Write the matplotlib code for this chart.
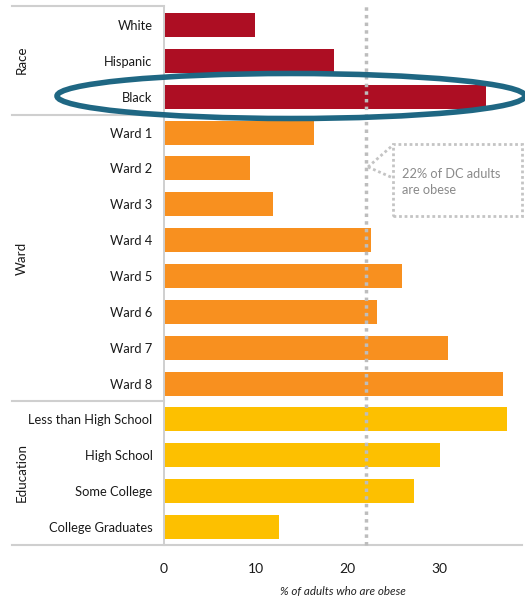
import matplotlib.pyplot as plt
from matplotlib.patches import Ellipse, Rectangle
from matplotlib.lines import Line2D

plt.rcParams['font.family'] = ['Lato', 'DejaVu Sans']

# obesity rates by group (% of adults)
race = ['White', 'Hispanic', 'Black']
race_vals = [10.0, 18.5, 35.1]
wards = ['Ward 1', 'Ward 2', 'Ward 3', 'Ward 4', 'Ward 5', 'Ward 6', 'Ward 7', 'Ward 8']
ward_vals = [16.4, 9.4, 11.9, 22.6, 25.9, 23.2, 31.0, 36.9]
education = ['Less than High School', 'High School', 'Some College', 'College Graduates']
edu_vals = [37.4, 30.1, 27.3, 12.6]
dc_average = 22
x_ticks = [0, 10, 20, 30]

RED = '#ad0e23'
ORANGE = '#f8901f'
YELLOW = '#fdc000'
LINE = '#cfcfcf'

labels = race + wards + education
values = race_vals + ward_vals + edu_vals
colors = [RED] * len(race) + [ORANGE] * len(wards) + [YELLOW] * len(education)
ypos = list(range(len(labels)))

W, H = 525, 600
fig = plt.figure(figsize=(5.25, 6), dpi=100)
ax = fig.add_axes([163.5 / W, 1 - 545 / H, (522 - 163.5) / W, 538 / H])

ax.barh(ypos, values, height=0.67, color=colors, zorder=2)
ax.set_ylim(len(labels) - 0.5, -0.5)
ax.set_xlim(0, 39)
ax.set_yticks(ypos)
ax.set_yticklabels(labels, fontsize=9.3, color='#1a1a1a')
ax.set_xticks(x_ticks)
ax.set_xticklabels([str(t) for t in x_ticks], fontsize=10, color='#1a1a1a')
ax.tick_params(axis='both', length=0)
ax.tick_params(axis='y', pad=8)
ax.tick_params(axis='x', pad=13)
for s in ['top', 'right']:
    ax.spines[s].set_visible(False)
ax.spines['left'].set_color(LINE)
ax.spines['bottom'].set_color(LINE)
ax.spines['left'].set_linewidth(1.2)
ax.spines['bottom'].set_linewidth(1.5)
ax.set_xlabel('% of adults who are obese', fontsize=8.4, style='italic',
              color='#222222', labelpad=8)

# DC average reference line
ax.axvline(dc_average, ymin=0, ymax=1.003, color='#bdbdbd', linestyle=(0, (1, 1.2)),
           linewidth=2.5, zorder=3, clip_on=False)

# group separators and labels on the left
def fy(py):
    return 1 - py / H

for py in [6, 115, 401, 545]:
    fig.add_artist(Line2D([12 / W, 163.5 / W], [fy(py), fy(py)], color=LINE, lw=1.5))
fig.add_artist(Line2D([163.5 / W, 163.5 / W], [fy(545), fy(6)], color=LINE, lw=1.2))

for name, py in [('Race', 60), ('Ward', 258), ('Education', 473)]:
    fig.text(22 / W, fy(py), name, rotation=90, ha='center', va='center',
             fontsize=9.6, color='#1a1a1a')

# callout box
box = Rectangle((393 / W, fy(216)), (522 - 393) / W, (216 - 144) / H,
                transform=fig.transFigure, fill=False, edgecolor='#c4c4c4',
                linestyle=(0, (1, 1)), linewidth=2)
fig.add_artist(box)
for py in [145, 178]:
    fig.add_artist(Line2D([368 / W, 393 / W], [fy(167), fy(py)], color='#c4c4c4',
                          lw=2, linestyle=(0, (1, 1))))
fig.text(402 / W, fy(182), '22% of DC adults\nare obese', ha='left', va='center',
         fontsize=9.2, color='#8a8a8a', linespacing=1.5)

# highlight ring around the Black bar
ring = Ellipse((291 / W, fy(96)), 468 / W, 45 / H, transform=fig.transFigure,
               fill=False, edgecolor='#1f6783', linewidth=4, zorder=10)
fig.add_artist(ring)

fig.savefig('out.png', dpi=100)
